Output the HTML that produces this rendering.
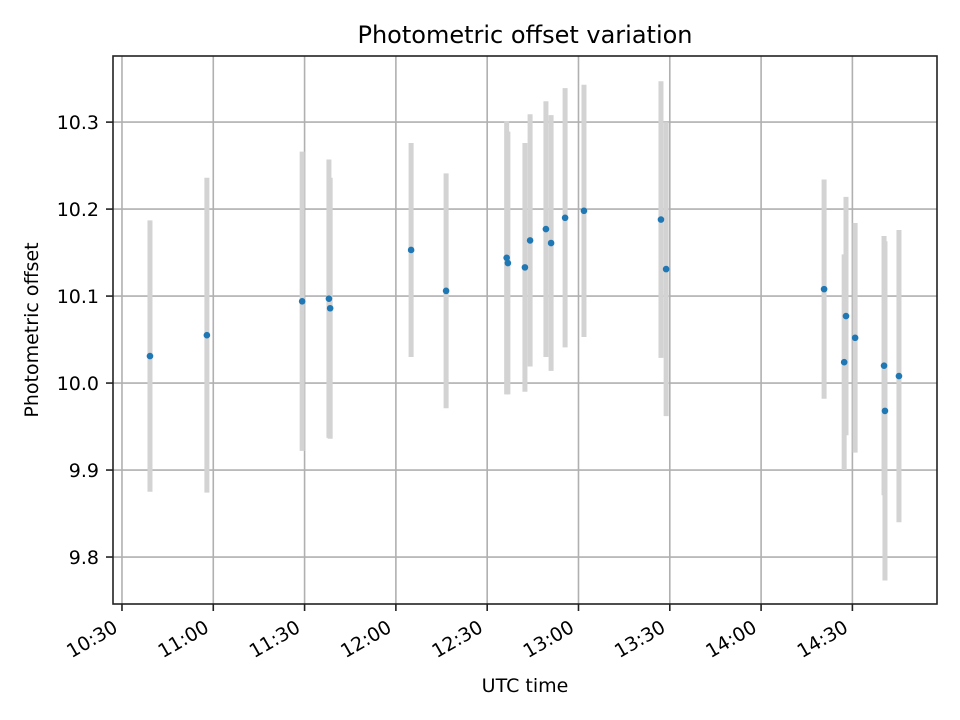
<!DOCTYPE html>
<html><head><meta charset="utf-8"><style>
html,body{margin:0;padding:0;background:#fff}
svg{display:block;font-family:"DejaVu Sans","Liberation Sans",sans-serif}
</style></head><body>
<svg id="chart" width="960" height="720" viewBox="0 0 960 720">
<rect x="0" y="0" width="960" height="720" fill="#fff"/>
<g id="grid"></g>
<g id="errs"></g>
<g id="pts"></g>
<rect x="113" y="56" width="824" height="548" fill="none" stroke="#222" stroke-width="1.6"/>
<g id="xticks"></g>
<g id="yticks"></g>
<text x="525" y="43" font-size="24" text-anchor="middle" fill="#000">Photometric offset variation</text>
<text x="525" y="692" font-size="19" text-anchor="middle" fill="#000">UTC time</text>
<text transform="translate(38,330) rotate(-90)" font-size="19" text-anchor="middle" fill="#000">Photometric offset</text>
</svg>
<script>
const times = ["10:39:12","10:57:54","11:29:12","11:38:00","11:38:24","12:05:00","12:16:30","12:36:24","12:36:48","12:42:24","12:44:06","12:49:18","12:51:00","12:55:36","13:01:48","13:27:06","13:28:48","14:20:42","14:27:18","14:27:54","14:30:54","14:40:24","14:40:42","14:45:18"];
const values = [10.031,10.055,10.094,10.097,10.086,10.153,10.106,10.144,10.138,10.133,10.164,10.177,10.161,10.190,10.198,10.188,10.131,10.108,10.024,10.077,10.052,10.020,9.968,10.008];
const errors = [0.156,0.181,0.172,0.160,0.150,0.123,0.135,0.157,0.151,0.143,0.145,0.147,0.147,0.149,0.145,0.159,0.169,0.126,0.124,0.137,0.132,0.149,0.195,0.168];
const xTickLabels = ["10:30","11:00","11:30","12:00","12:30","13:00","13:30","14:00","14:30"];
const yTickLabels = ["9.8","9.9","10.0","10.1","10.2","10.3"];

const NS = "http://www.w3.org/2000/svg";
function toMin(s){const p=s.split(":").map(Number);return p[0]*60+p[1]+(p[2]||0)/60;}
const X0=627.05, X1=897.8, Y0=9.746, Y1=10.376;
function xs(m){return 113+(m-X0)/(X1-X0)*824;}
function ys(v){return 604-(v-Y0)/(Y1-Y0)*548;}
function mk(tag,attrs,parent){const e=document.createElementNS(NS,tag);for(const k in attrs)e.setAttribute(k,attrs[k]);parent.appendChild(e);return e;}
const grid=document.getElementById("grid"), xt=document.getElementById("xticks"), yt=document.getElementById("yticks");
xTickLabels.forEach(l=>{
  const x=xs(toMin(l));
  const g=mk("line",{x1:x,x2:x,y1:56,y2:604,stroke:"#b0b0b0","stroke-width":1.6},grid);
  
  
  const t=mk("line",{x1:x,x2:x,y1:604,y2:611,stroke:"#222","stroke-width":1.6},xt);
  
  
  const tx=mk("text",{x:0,y:0,"font-size":19,"text-anchor":"end",transform:`translate(${x-3},631) rotate(-30)`,fill:"#000"},xt);
  tx.textContent=l;
  
  
});
yTickLabels.forEach(l=>{
  const y=ys(parseFloat(l));
  const g=mk("line",{x1:113,x2:937,y1:y,y2:y,stroke:"#b0b0b0","stroke-width":1.6},grid);
  
  
  const t=mk("line",{x1:106,x2:113,y1:y,y2:y,stroke:"#222","stroke-width":1.6},yt);
  
  
  const tx=mk("text",{x:99,y:y+7,"font-size":19,"text-anchor":"end",fill:"#000"},yt);
  tx.textContent=l;
  
  
});
const errs=document.getElementById("errs"), pts=document.getElementById("pts");
times.forEach((t,i)=>{
  const x=xs(toMin(t));
  const b=mk("line",{x1:x,x2:x,y1:ys(values[i]+errors[i]),y2:ys(values[i]-errors[i]),stroke:"#d3d3d3","stroke-width":5},errs);
  
  
});
times.forEach((t,i)=>{
  const c=mk("circle",{cx:xs(toMin(t)),cy:ys(values[i]),r:3.3,fill:"#1f77b4"},pts);
  
  
});
</script>
</body></html>
